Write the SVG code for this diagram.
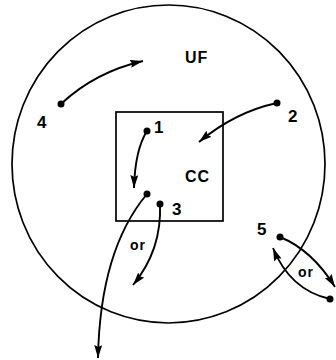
<svg xmlns="http://www.w3.org/2000/svg" width="336" height="360" viewBox="0 0 336 360">
<style>
.ln{fill:none;stroke:#000;stroke-width:1.9}
.bd{fill:none;stroke:#000;stroke-width:1.7}
.dot{fill:#000}
text{font-family:"Liberation Sans",Arial,sans-serif;fill:#000;font-weight:bold}
.lb{font-size:16px;letter-spacing:1px}
.nm{font-size:17px}
.sm{font-size:14px;letter-spacing:1px}
</style>
<defs>
<marker id="ah" markerUnits="userSpaceOnUse" viewBox="0 0 13 8" refX="13" refY="4" markerWidth="13" markerHeight="8" orient="auto">
<path d="M0,0 L13,4 L0,8 L2,4 Z" fill="#000"/>
</marker>
</defs>
<rect width="336" height="360" fill="#fff"/>
<g id="UF">
<ellipse class="bd" cx="168.5" cy="164" rx="156.5" ry="159"/>
<text class="lb" x="185" y="63">UF</text>
</g>
<g id="CC">
<rect class="bd" x="116" y="112" width="107" height="109"/>
<text class="lb" x="185" y="182">CC</text>
</g>
<g id="n1"><circle class="dot" cx="147" cy="131" r="3.5"/><text class="nm" x="154" y="133" font-size="15">1</text></g>
<g id="n2"><circle class="dot" cx="277" cy="103" r="3.5"/><text class="nm" x="288" y="122">2</text></g>
<g id="n3"><circle class="dot" cx="160" cy="204" r="3.5"/><text class="nm" x="172" y="215">3</text></g>
<g id="n4"><circle class="dot" cx="61" cy="104" r="3.5"/><text class="nm" x="37" y="128">4</text></g>
<g id="n5"><circle class="dot" cx="280" cy="237" r="3.5"/><text class="nm" x="257" y="235">5</text></g>
<g id="n1b"><circle class="dot" cx="147" cy="194" r="3.5"/></g>
<g id="n5b"><circle class="dot" cx="330" cy="299" r="3.5"/></g>
<g id="connectors">
<path class="ln" marker-end="url(#ah)" d="M61,104 Q95,72 143,61"/>
<path class="ln" marker-end="url(#ah)" d="M277,103 Q235,112 199,142"/>
<path class="ln" marker-end="url(#ah)" d="M147,131 Q135,150 134,188"/>
<path class="ln" marker-end="url(#ah)" d="M147,194 Q100,250 98,358"/>
<path class="ln" marker-end="url(#ah)" d="M160,204 Q162,250 133,285"/>
<path class="ln" marker-end="url(#ah)" d="M280,237 Q312,250 335,287"/>
<path class="ln" marker-end="url(#ah)" d="M330,299 Q290,290 273,248"/>
<text class="sm" x="130" y="250">or</text>
<text class="sm" x="298" y="277">or</text>
</g>
</svg>
